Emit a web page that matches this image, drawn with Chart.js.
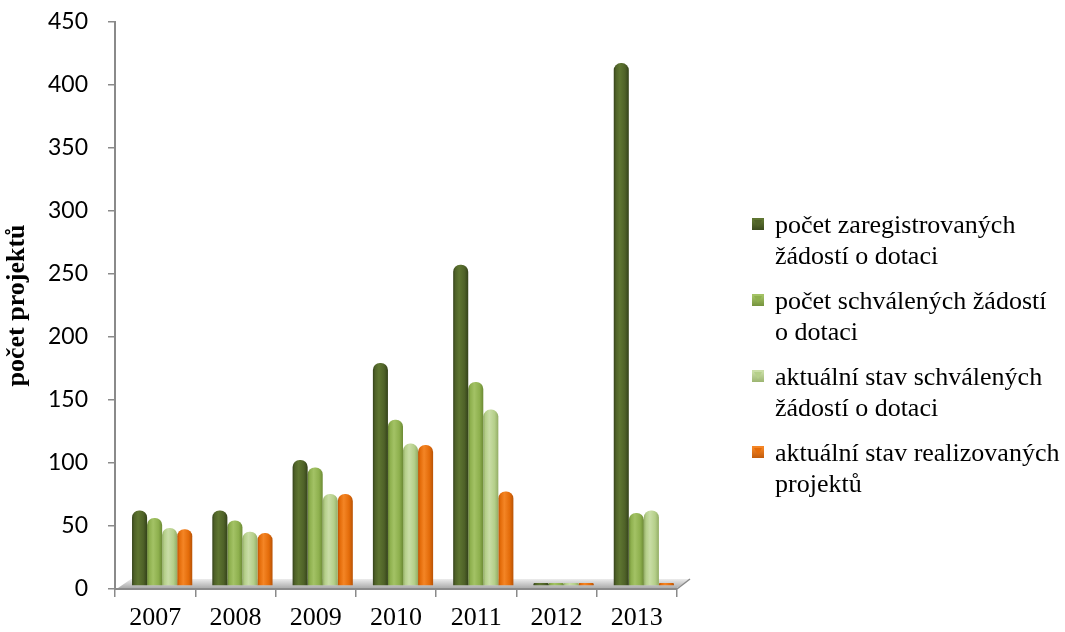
<!DOCTYPE html>
<html>
<head>
<meta charset="utf-8">
<script src="https://cdn.jsdelivr.net/npm/chart.js@4/dist/chart.umd.min.js"></script>
<style>
  html, body { margin: 0; padding: 0; background: #fff; }
  #wrap { width: 1065px; height: 632px; }
</style>
</head>
<body>
<div id="wrap"><canvas id="projekty"></canvas></div>
<script>
/* data */
var years = ['2007', '2008', '2009', '2010', '2011', '2012', '2013'];
var zaregistrovane = [60, 60, 100, 177, 255, 0, 415];
var schvalene = [54, 52, 94, 132, 162, 0, 58];
var aktualniSchvalene = [46, 43, 73, 113, 140, 0, 60];
var realizovane = [45, 42, 73, 112, 75, 0, 0];
var yTicks = [0, 50, 100, 150, 200, 250, 300, 350, 400, 450];

var seriesNames = [
  ['počet zaregistrovaných', 'žádostí o dotaci'],
  ['počet schválených žádostí', 'o dotaci'],
  ['aktuální stav schválených', 'žádostí o dotaci'],
  ['aktuální stav realizovaných', 'projektů']
];

// base, highlight, dark edge
var shades = [
  ['#4f6228', '#5e7531', '#34421a'],
  ['#8eb04e', '#a3c265', '#6c8a35'],
  ['#b5cf8a', '#c9dda6', '#93ad66'],
  ['#e46c0a', '#f48525', '#b85306']
];

var CAT_PCT = 0.75, BAR_PCT = 1.0;

// cylinder-like shading, worked out from the x scale
function cylinder(ds) {
  return function (c) {
    var chart = c.chart, xs = chart.scales.x;
    var col = shades[ds];
    if (!xs || c.dataIndex === undefined) return col[0];
    var cw = xs.width / years.length;
    var group = cw * CAT_PCT;
    var bw = group / 4 * BAR_PCT;
    var cx = xs.getPixelForValue(c.dataIndex) - group / 2 + (ds + 0.5) * group / 4;
    if (!isFinite(cx) || !isFinite(bw) || bw <= 0) return col[0];
    var g = chart.ctx.createLinearGradient(cx - bw / 2, 0, cx + bw / 2, 0);
    g.addColorStop(0, col[2]);
    g.addColorStop(0.15, col[0]);
    g.addColorStop(0.4, col[1]);
    g.addColorStop(0.75, col[0]);
    g.addColorStop(1, col[2]);
    return g;
  };
}

// grey 3D floor, and bars pushed back a little into the "depth"
var floorPlugin = {
  id: 'floor',
  beforeDatasetsDraw: function (chart) {
    var ctx = chart.ctx, a = chart.chartArea;
    var y0 = chart.scales.y.getPixelForValue(0);
    var d = 13, h = 10;
    ctx.save();
    var g = ctx.createLinearGradient(0, y0 - h, 0, y0);
    g.addColorStop(0, '#ececec');
    g.addColorStop(1, '#a5a5a5');
    ctx.fillStyle = g;
    ctx.beginPath();
    ctx.moveTo(a.left + 3, y0 - 1);
    ctx.lineTo(a.left + 3 + d, y0 - h);
    ctx.lineTo(a.right + d, y0 - h);
    ctx.lineTo(a.right, y0 - 1);
    ctx.closePath();
    ctx.fill();
    ctx.strokeStyle = '#8a8a8a';
    ctx.lineWidth = 1.5;
    ctx.beginPath();
    ctx.moveTo(a.right, y0);
    ctx.lineTo(a.right + d, y0 - h);
    ctx.stroke();
    ctx.restore();
    ctx.save();
    ctx.translate(7, -3);
  },
  afterDatasetsDraw: function (chart) {
    chart.ctx.restore();
  }
};

// legend on the right, two lines per entry
var legendPlugin = {
  id: 'sideLegend',
  afterDraw: function (chart) {
    var ctx = chart.ctx;
    var boxX = 752, textX = 775, top = 226, stride = 76, line = 31, box = 12;
    ctx.save();
    ctx.font = '26px "Liberation Serif"';
    ctx.textBaseline = 'middle';
    seriesNames.forEach(function (lines, i) {
      var y = top + i * stride;
      var col = shades[i];
      var g = ctx.createLinearGradient(0, y - box / 2, 0, y + box / 2);
      g.addColorStop(0, col[1]);
      g.addColorStop(1, col[2]);
      ctx.fillStyle = g;
      ctx.fillRect(boxX, y - box / 2 - 2, box, box);
      ctx.fillStyle = col[0];
      ctx.beginPath();
      ctx.moveTo(boxX + 2, y - box / 2);
      ctx.lineTo(boxX + box - 2, y - box / 2);
      ctx.lineTo(boxX + box / 2, y + 1);
      ctx.closePath();
      ctx.fill();
      ctx.fillStyle = '#000';
      lines.forEach(function (t, k) {
        ctx.fillText(t, textX, y + k * line);
      });
    });
    ctx.restore();
  }
};

var values = [zaregistrovane, schvalene, aktualniSchvalene, realizovane];
var datasets = values.map(function (v, i) {
  return {
    label: seriesNames[i].join(' '),
    data: v,
    backgroundColor: cylinder(i),
    borderWidth: 0,
    borderRadius: { topLeft: 7, topRight: 7 },
    borderSkipped: 'bottom',
    minBarLength: 3,
    categoryPercentage: CAT_PCT,
    barPercentage: BAR_PCT
  };
});

var projektyChart = new Chart(document.getElementById('projekty'), {
  type: 'bar',
  data: { labels: years, datasets: datasets },
  plugins: [floorPlugin, legendPlugin],
  options: {
    responsive: true,
    maintainAspectRatio: false,
    animation: false,
    layout: { padding: { top: 22, right: 388, left: 0, bottom: 0 } },
    plugins: {
      tooltip: { enabled: false },
      legend: { display: false }
    },
    scales: {
      x: {
        offset: true,
        grid: { display: true, drawOnChartArea: false, drawTicks: true, tickLength: 8, color: '#8a8a8a', lineWidth: 1.5 },
        border: { color: '#8a8a8a', width: 2 },
        ticks: { color: '#000', padding: 6, font: { family: 'Liberation Serif', size: 26 } },
        afterFit: function (s) { s.height = 43; }
      },
      y: {
        min: 0,
        max: 450,
        afterBuildTicks: function (s) { s.ticks = yTicks.map(function (v) { return { value: v }; }); },
        grid: { drawOnChartArea: false, drawTicks: true, tickLength: 7, color: '#8a8a8a', lineWidth: 1.5 },
        border: { color: '#8a8a8a', width: 2 },
        ticks: { color: '#000', padding: 20, font: { family: 'Lato', size: 23 } },
        title: {
          display: true,
          text: 'počet projektů',
          color: '#000',
          padding: { top: 4, bottom: 0 },
          font: { family: 'Liberation Serif', size: 26, weight: 'bold', lineHeight: 1.0 }
        },
        afterFit: function (s) {
          s.width = 115;
          s.paddingTop = 0;
          s.paddingBottom = 0;
        }
      }
    }
  }
});
</script>
</body>
</html>
